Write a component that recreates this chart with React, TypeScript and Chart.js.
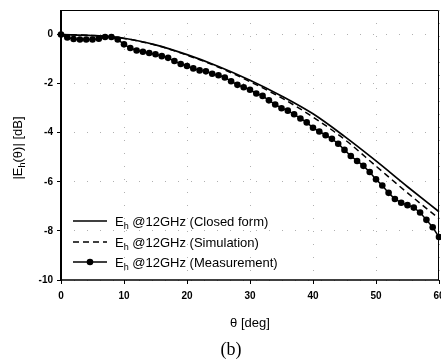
import React, { useEffect, useRef } from 'react';
import { Chart, registerables } from 'chart.js';

Chart.register(...registerables);

const xTicks = [0, 10, 20, 30, 40, 50, 60];
const yTicks = [-10, -8, -6, -4, -2, 0];

const thetaModel = [0, 5, 10, 15, 20, 25, 30, 35, 40, 45, 50, 55, 60];
const closedForm = [0, -0.04, -0.15, -0.42, -0.82, -1.3, -1.86, -2.5, -3.23, -4.15, -5.15, -6.2, -7.22];
const simulation = [0, -0.04, -0.16, -0.43, -0.84, -1.33, -1.92, -2.58, -3.36, -4.27, -5.36, -6.45, -7.5];

const thetaMeas = [
  0, 1, 2, 3, 4, 5, 6, 7, 8, 9, 10, 11, 12, 13, 14, 15, 16, 17, 18, 19, 20,
  21, 22, 23, 24, 25, 26, 27, 28, 29, 30, 31, 32, 33, 34, 35, 36, 37, 38, 39, 40,
  41, 42, 43, 44, 45, 46, 47, 48, 49, 50, 51, 52, 53, 54, 55, 56, 57, 58, 59, 60,
];
const measurement = [
  0, -0.12, -0.18, -0.2, -0.2, -0.2, -0.17, -0.1, -0.1, -0.2, -0.4,
  -0.55, -0.65, -0.7, -0.75, -0.8, -0.88, -0.95, -1.08, -1.2, -1.28,
  -1.38, -1.46, -1.5, -1.6, -1.66, -1.75, -1.9, -2.05, -2.15, -2.25,
  -2.4, -2.5, -2.68, -2.85, -3.0, -3.1, -3.25, -3.42, -3.58, -3.8,
  -3.95, -4.1, -4.25, -4.45, -4.7, -4.95, -5.15, -5.35, -5.6, -5.9,
  -6.15, -6.45, -6.7, -6.85, -6.95, -7.05, -7.25, -7.55, -7.85, -8.25,
];

const seriesNames = ['Closed form', 'Simulation', 'Measurement'];
const legendPrefix = 'E';
const legendSub = 'h';
const legendFreq = ' @12GHz ';

const FONT = 'Arial, "Liberation Sans", sans-serif';

function drawSubText(ctx: CanvasRenderingContext2D, x: number, y: number, base: string, sub: string, rest: string, size: number) {
  ctx.font = `${size}px ${FONT}`;
  ctx.fillText(base, x, y);
  let cx = x + ctx.measureText(base).width;
  ctx.font = `${Math.round(size * 0.7)}px ${FONT}`;
  ctx.fillText(sub, cx, y + size * 0.25);
  cx += ctx.measureText(sub).width;
  ctx.font = `${size}px ${FONT}`;
  ctx.fillText(rest, cx, y);
}

function subTextWidth(ctx: CanvasRenderingContext2D, base: string, sub: string, rest: string, size: number) {
  ctx.font = `${size}px ${FONT}`;
  let w = ctx.measureText(base).width + ctx.measureText(rest).width;
  ctx.font = `${Math.round(size * 0.7)}px ${FONT}`;
  w += ctx.measureText(sub).width;
  return w;
}

const decor = {
  id: 'decor',
  afterDraw(chart: any) {
    const { ctx, chartArea: a } = chart;
    ctx.save();
    ctx.strokeStyle = '#000';
    ctx.fillStyle = '#000';
    // frame
    ctx.lineWidth = 1;
    ctx.beginPath();
    ctx.moveTo(a.left, a.top + 0.5);
    ctx.lineTo(a.right - 0.5, a.top + 0.5);
    ctx.lineTo(a.right - 0.5, a.bottom);
    ctx.stroke();
    ctx.lineWidth = 2;
    ctx.beginPath();
    ctx.moveTo(a.left, a.top);
    ctx.lineTo(a.left, a.bottom + 1);
    ctx.stroke();
    ctx.lineWidth = 1.5;
    ctx.beginPath();
    ctx.moveTo(a.left - 1, a.bottom);
    ctx.lineTo(a.right, a.bottom);
    ctx.stroke();

    // legend
    const lx0 = a.left + 12;
    const lx1 = a.left + 46;
    const tx = a.left + 54;
    const rows = [a.top + 211, a.top + 232, a.top + 252];
    ctx.textBaseline = 'alphabetic';
    ctx.textAlign = 'left';
    rows.forEach((ry, i) => {
      ctx.lineWidth = 1.6;
      ctx.setLineDash(i === 1 ? [6, 4] : []);
      ctx.beginPath();
      ctx.moveTo(lx0, ry);
      ctx.lineTo(lx1, ry);
      ctx.stroke();
      ctx.setLineDash([]);
      if (i === 2) {
        ctx.beginPath();
        ctx.arc((lx0 + lx1) / 2, ry, 3.3, 0, Math.PI * 2);
        ctx.fill();
      }
      drawSubText(ctx, tx, ry + 4.5, legendPrefix, legendSub, `${legendFreq}(${seriesNames[i]})`, 13);
    });

    // x title
    ctx.font = `13px ${FONT}`;
    ctx.textAlign = 'center';
    ctx.textBaseline = 'middle';
    ctx.fillText('θ [deg]', (a.left + a.right) / 2, 323);

    // y title
    ctx.save();
    ctx.translate(17, (a.top + a.bottom) / 2 + 3);
    ctx.rotate(-Math.PI / 2);
    ctx.textAlign = 'left';
    ctx.textBaseline = 'alphabetic';
    const w = subTextWidth(ctx, '|E', 'h', '(θ)| [dB]', 13);
    drawSubText(ctx, -w / 2, 5, '|E', 'h', '(θ)| [dB]', 13);
    ctx.restore();

    // caption
    ctx.font = '18px "Liberation Serif", "Times New Roman", serif';
    ctx.textAlign = 'center';
    ctx.textBaseline = 'middle';
    ctx.fillText('(b)', 231, 350);
    ctx.restore();
  },
};

export default function App() {
  const ref = useRef<HTMLCanvasElement | null>(null);
  useEffect(() => {
    if (!ref.current) return;
    const chart = new Chart(ref.current, {
      type: 'line',
      data: {
        datasets: [
          {
            label: seriesNames[0],
            data: thetaModel.map((t, i) => ({ x: t, y: closedForm[i] })),
            borderColor: '#000',
            borderWidth: 1.7,
            pointRadius: 0,
            cubicInterpolationMode: 'monotone',
          },
          {
            label: seriesNames[1],
            data: thetaModel.map((t, i) => ({ x: t, y: simulation[i] })),
            borderColor: '#000',
            borderWidth: 1.5,
            borderDash: [6, 4],
            pointRadius: 0,
            cubicInterpolationMode: 'monotone',
          },
          {
            label: seriesNames[2],
            data: thetaMeas.map((t, i) => ({ x: t, y: measurement[i] })),
            borderColor: '#000',
            backgroundColor: '#000',
            borderWidth: 1.5,
            pointRadius: 3.3,
            pointBorderWidth: 0,
            pointBackgroundColor: '#000',
          },
        ],
      },
      options: {
        responsive: false,
        animation: false,
        clip: false,
        layout: { padding: { left: 0, right: 31, top: 7, bottom: 0 } },
        plugins: { legend: { display: false }, tooltip: { enabled: false } },
        scales: {
          x: {
            type: 'linear',
            min: 0,
            max: 60,
            afterBuildTicks: (s: any) => {
              s.ticks = xTicks.map((v) => ({ value: v }));
            },
            afterFit: (s: any) => {
              s.height = 82;
            },
            ticks: {
              color: '#000',
              font: { family: FONT, size: 10, weight: 'bold' },
              padding: 6,
              maxRotation: 0,
            },
            grid: {
              color: '#b0b0b0',
              lineWidth: 1,
              tickColor: '#000',
              tickLength: 4,
              tickWidth: 1,
            },
            border: { display: false, dash: [1, 12] },
          },
          y: {
            type: 'linear',
            min: -10,
            max: 1,
            afterBuildTicks: (s: any) => {
              s.ticks = yTicks.map((v) => ({ value: v }));
            },
            afterFit: (s: any) => {
              s.width = 61;
            },
            ticks: {
              color: '#000',
              font: { family: FONT, size: 10, weight: 'bold' },
              padding: 4,
            },
            grid: {
              color: '#b0b0b0',
              lineWidth: 1,
              tickColor: '#000',
              tickLength: 4,
              tickWidth: 1,
            },
            border: { display: false, dash: [1, 12] },
          },
        },
      },
      plugins: [decor],
    });
    return () => chart.destroy();
  }, []);
  return (
    <div style={{ position: 'fixed', left: 0, top: 0, width: 441, height: 362, overflow: 'hidden', background: '#fff' }}>
      <canvas ref={ref} width={470} height={362} style={{ display: 'block' }} />
    </div>
  );
}
